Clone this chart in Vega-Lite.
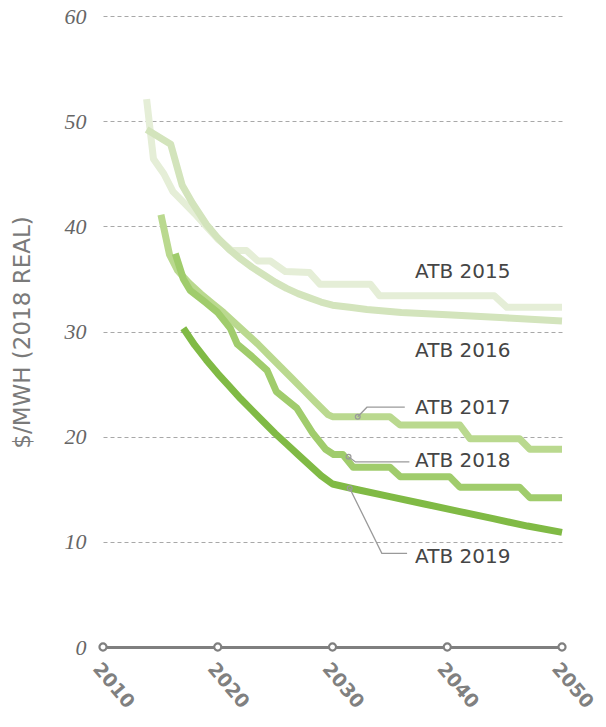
{
  "$schema": "https://vega.github.io/schema/vega-lite/v6.json",
  "width": 459,
  "height": 631,
  "autosize": "none",
  "padding": {"left": 103, "top": 16, "right": 44, "bottom": 80},
  "background": "white",
  "config": {"view": {"stroke": null}},
  "datasets": {
    "series": [
      {"series": "ATB 2015", "year": 2013.8, "value": 52.1},
      {"series": "ATB 2015", "year": 2014.4, "value": 46.4},
      {"series": "ATB 2015", "year": 2015.3, "value": 45.0},
      {"series": "ATB 2015", "year": 2016.1, "value": 43.3},
      {"series": "ATB 2015", "year": 2017, "value": 42.3},
      {"series": "ATB 2015", "year": 2018, "value": 41.2},
      {"series": "ATB 2015", "year": 2019, "value": 40.0},
      {"series": "ATB 2015", "year": 2020, "value": 38.8},
      {"series": "ATB 2015", "year": 2021.2, "value": 37.7},
      {"series": "ATB 2015", "year": 2022.5, "value": 37.7},
      {"series": "ATB 2015", "year": 2023.5, "value": 36.7},
      {"series": "ATB 2015", "year": 2024.6, "value": 36.7},
      {"series": "ATB 2015", "year": 2025.9, "value": 35.7},
      {"series": "ATB 2015", "year": 2028, "value": 35.6},
      {"series": "ATB 2015", "year": 2028.9, "value": 34.5},
      {"series": "ATB 2015", "year": 2033.3, "value": 34.5},
      {"series": "ATB 2015", "year": 2034.1, "value": 33.4},
      {"series": "ATB 2015", "year": 2044.1, "value": 33.4},
      {"series": "ATB 2015", "year": 2045.2, "value": 32.3},
      {"series": "ATB 2015", "year": 2050, "value": 32.3},
      {"series": "ATB 2016", "year": 2013.8, "value": 49.2},
      {"series": "ATB 2016", "year": 2015.9, "value": 47.8},
      {"series": "ATB 2016", "year": 2016.9, "value": 43.9},
      {"series": "ATB 2016", "year": 2017.8, "value": 42.2},
      {"series": "ATB 2016", "year": 2019, "value": 40.2},
      {"series": "ATB 2016", "year": 2020, "value": 38.9},
      {"series": "ATB 2016", "year": 2021, "value": 37.8},
      {"series": "ATB 2016", "year": 2022, "value": 36.9},
      {"series": "ATB 2016", "year": 2023, "value": 36.1},
      {"series": "ATB 2016", "year": 2024, "value": 35.4},
      {"series": "ATB 2016", "year": 2025, "value": 34.7},
      {"series": "ATB 2016", "year": 2026, "value": 34.1},
      {"series": "ATB 2016", "year": 2027, "value": 33.6},
      {"series": "ATB 2016", "year": 2028, "value": 33.2},
      {"series": "ATB 2016", "year": 2029, "value": 32.8},
      {"series": "ATB 2016", "year": 2030, "value": 32.5},
      {"series": "ATB 2016", "year": 2031.5, "value": 32.3},
      {"series": "ATB 2016", "year": 2033, "value": 32.1},
      {"series": "ATB 2016", "year": 2036, "value": 31.8},
      {"series": "ATB 2016", "year": 2040, "value": 31.6},
      {"series": "ATB 2016", "year": 2045, "value": 31.3},
      {"series": "ATB 2016", "year": 2050, "value": 31.0},
      {"series": "ATB 2017", "year": 2015.05, "value": 41.1},
      {"series": "ATB 2017", "year": 2015.8, "value": 37.3},
      {"series": "ATB 2017", "year": 2016.5, "value": 35.8},
      {"series": "ATB 2017", "year": 2017.5, "value": 34.6},
      {"series": "ATB 2017", "year": 2018.5, "value": 33.6},
      {"series": "ATB 2017", "year": 2019.5, "value": 32.7},
      {"series": "ATB 2017", "year": 2020.5, "value": 31.8},
      {"series": "ATB 2017", "year": 2021.5, "value": 30.8},
      {"series": "ATB 2017", "year": 2022.5, "value": 29.8},
      {"series": "ATB 2017", "year": 2023.5, "value": 28.8},
      {"series": "ATB 2017", "year": 2024.5, "value": 27.7},
      {"series": "ATB 2017", "year": 2025.5, "value": 26.6},
      {"series": "ATB 2017", "year": 2026.5, "value": 25.5},
      {"series": "ATB 2017", "year": 2027.5, "value": 24.4},
      {"series": "ATB 2017", "year": 2028.5, "value": 23.3},
      {"series": "ATB 2017", "year": 2029.6, "value": 22.1},
      {"series": "ATB 2017", "year": 2030, "value": 21.9},
      {"series": "ATB 2017", "year": 2035, "value": 21.9},
      {"series": "ATB 2017", "year": 2035.9, "value": 21.1},
      {"series": "ATB 2017", "year": 2041.1, "value": 21.1},
      {"series": "ATB 2017", "year": 2042, "value": 19.8},
      {"series": "ATB 2017", "year": 2046.3, "value": 19.8},
      {"series": "ATB 2017", "year": 2047.2, "value": 18.8},
      {"series": "ATB 2017", "year": 2050, "value": 18.8},
      {"series": "ATB 2018", "year": 2016.3, "value": 37.4},
      {"series": "ATB 2018", "year": 2017, "value": 35.0},
      {"series": "ATB 2018", "year": 2017.6, "value": 33.9},
      {"series": "ATB 2018", "year": 2019, "value": 32.7},
      {"series": "ATB 2018", "year": 2020, "value": 31.8},
      {"series": "ATB 2018", "year": 2021.1, "value": 30.3},
      {"series": "ATB 2018", "year": 2021.7, "value": 28.8},
      {"series": "ATB 2018", "year": 2023, "value": 27.6},
      {"series": "ATB 2018", "year": 2024.3, "value": 26.3},
      {"series": "ATB 2018", "year": 2025.1, "value": 24.3},
      {"series": "ATB 2018", "year": 2026.9, "value": 22.7},
      {"series": "ATB 2018", "year": 2028.3, "value": 20.3},
      {"series": "ATB 2018", "year": 2029.4, "value": 18.8},
      {"series": "ATB 2018", "year": 2030.1, "value": 18.3},
      {"series": "ATB 2018", "year": 2030.9, "value": 18.3},
      {"series": "ATB 2018", "year": 2031.8, "value": 17.1},
      {"series": "ATB 2018", "year": 2035, "value": 17.1},
      {"series": "ATB 2018", "year": 2035.9, "value": 16.2},
      {"series": "ATB 2018", "year": 2040.2, "value": 16.2},
      {"series": "ATB 2018", "year": 2041.1, "value": 15.2},
      {"series": "ATB 2018", "year": 2046.3, "value": 15.2},
      {"series": "ATB 2018", "year": 2047.2, "value": 14.2},
      {"series": "ATB 2018", "year": 2050, "value": 14.2},
      {"series": "ATB 2019", "year": 2017, "value": 30.3},
      {"series": "ATB 2019", "year": 2018, "value": 28.7},
      {"series": "ATB 2019", "year": 2019, "value": 27.3},
      {"series": "ATB 2019", "year": 2020, "value": 26.0},
      {"series": "ATB 2019", "year": 2021, "value": 24.8},
      {"series": "ATB 2019", "year": 2022, "value": 23.6},
      {"series": "ATB 2019", "year": 2023, "value": 22.5},
      {"series": "ATB 2019", "year": 2024, "value": 21.4},
      {"series": "ATB 2019", "year": 2025, "value": 20.3},
      {"series": "ATB 2019", "year": 2026, "value": 19.3},
      {"series": "ATB 2019", "year": 2027, "value": 18.3},
      {"series": "ATB 2019", "year": 2028, "value": 17.3},
      {"series": "ATB 2019", "year": 2029, "value": 16.3},
      {"series": "ATB 2019", "year": 2030, "value": 15.5},
      {"series": "ATB 2019", "year": 2032, "value": 15.0},
      {"series": "ATB 2019", "year": 2035, "value": 14.3},
      {"series": "ATB 2019", "year": 2038, "value": 13.6},
      {"series": "ATB 2019", "year": 2041, "value": 12.9},
      {"series": "ATB 2019", "year": 2044, "value": 12.2},
      {"series": "ATB 2019", "year": 2047, "value": 11.5},
      {"series": "ATB 2019", "year": 2050, "value": 10.9}
    ],
    "leaders": [
      {"label": "ATB 2017", "ord": 1, "year": 2032.2, "value": 21.9},
      {"label": "ATB 2017", "ord": 2, "year": 2033.0, "value": 22.8},
      {"label": "ATB 2017", "ord": 3, "year": 2036.3, "value": 22.8},
      {"label": "ATB 2018", "ord": 1, "year": 2031.4, "value": 18.1},
      {"label": "ATB 2018", "ord": 2, "year": 2032.0, "value": 17.6},
      {"label": "ATB 2018", "ord": 3, "year": 2036.7, "value": 17.6},
      {"label": "ATB 2019", "ord": 1, "year": 2031.5, "value": 15.1},
      {"label": "ATB 2019", "ord": 2, "year": 2034.3, "value": 8.9},
      {"label": "ATB 2019", "ord": 3, "year": 2036.5, "value": 8.9}
    ],
    "leaderEnds": [
      {"year": 2032.2, "value": 21.9},
      {"year": 2031.4, "value": 18.1},
      {"year": 2031.5, "value": 15.1}
    ],
    "labels": [
      {"label": "ATB 2015", "year": 2037.2, "value": 35.7},
      {"label": "ATB 2016", "year": 2037.2, "value": 28.1},
      {"label": "ATB 2017", "year": 2037.2, "value": 22.7},
      {"label": "ATB 2018", "year": 2037.2, "value": 17.7},
      {"label": "ATB 2019", "year": 2037.2, "value": 8.6}
    ],
    "ticks": [
      {"year": 2010, "value": 0},
      {"year": 2020, "value": 0},
      {"year": 2030, "value": 0},
      {"year": 2040, "value": 0},
      {"year": 2050, "value": 0}
    ]
  },
  "layer": [
    {
      "data": {"name": "series"},
      "mark": {"type": "line", "strokeWidth": 7, "strokeCap": "butt", "strokeJoin": "round"},
      "encoding": {
        "x": {
          "field": "year", "type": "quantitative",
          "scale": {"domain": [2010, 2050], "nice": false, "zero": false},
          "axis": {
            "title": null,
            "values": [2010, 2020, 2030, 2040, 2050],
            "format": "d",
            "grid": false,
            "ticks": false,
            "domainColor": "#7f7f7f",
            "domainWidth": 3,
            "labelAngle": 50,
            "labelAlign": "left",
            "labelBaseline": "top",
            "labelPadding": 12,
            "labelFont": "DejaVu Sans",
            "labelFontWeight": "bold",
            "labelFontSize": 19,
            "labelColor": "#808080"
          }
        },
        "y": {
          "field": "value", "type": "quantitative",
          "scale": {"domain": [0, 60], "nice": false},
          "axis": {
            "title": "$/MWH (2018 REAL)",
            "values": [0, 10, 20, 30, 40, 50, 60],
            "domain": false,
            "ticks": false,
            "grid": true,
            "gridDash": [4, 3],
            "gridColor": "#a8a8a8",
            "gridWidth": 1,
            "labelFont": "Liberation Serif",
            "labelFontStyle": "italic",
            "labelFontSize": 22,
            "labelColor": "#666666",
            "labelPadding": 17,
            "titleFont": "DejaVu Sans",
            "titleFontWeight": "normal",
            "titleFontSize": 23,
            "titleColor": "#7a7a7a",
            "titleAngle": -90,
            "titleX": -81,
            "titleY": 316,
            "titleAlign": "center",
            "titleBaseline": "middle"
          }
        },
        "color": {
          "field": "series", "type": "nominal",
          "scale": {
            "domain": ["ATB 2015", "ATB 2016", "ATB 2017", "ATB 2018", "ATB 2019"],
            "range": ["#e5eed7", "#d3e4bc", "#bad98f", "#a0cc6c", "#80ba45"]
          },
          "legend": null
        },
        "order": {"field": "year", "type": "quantitative"}
      }
    },
    {
      "data": {"name": "leaders"},
      "mark": {"type": "line", "color": "#9a9a9a", "strokeWidth": 1.3},
      "encoding": {
        "x": {"field": "year", "type": "quantitative"},
        "y": {"field": "value", "type": "quantitative"},
        "detail": {"field": "label", "type": "nominal"},
        "order": {"field": "ord", "type": "quantitative"}
      }
    },
    {
      "data": {"name": "leaderEnds"},
      "mark": {"type": "point", "shape": "circle", "filled": false, "color": "#9a9a9a", "strokeWidth": 1.3, "size": 22, "opacity": 1},
      "encoding": {
        "x": {"field": "year", "type": "quantitative"},
        "y": {"field": "value", "type": "quantitative"}
      }
    },
    {
      "data": {"name": "labels"},
      "mark": {"type": "text", "align": "left", "baseline": "middle", "font": "DejaVu Sans", "fontSize": 20, "color": "#454545"},
      "encoding": {
        "x": {"field": "year", "type": "quantitative"},
        "y": {"field": "value", "type": "quantitative"},
        "text": {"field": "label", "type": "nominal"}
      }
    },
    {
      "data": {"name": "ticks"},
      "mark": {"type": "point", "shape": "circle", "filled": true, "fill": "white", "stroke": "#7f7f7f", "strokeWidth": 2.2, "size": 50, "opacity": 1},
      "encoding": {
        "x": {"field": "year", "type": "quantitative"},
        "y": {"field": "value", "type": "quantitative"}
      }
    }
  ]
}
